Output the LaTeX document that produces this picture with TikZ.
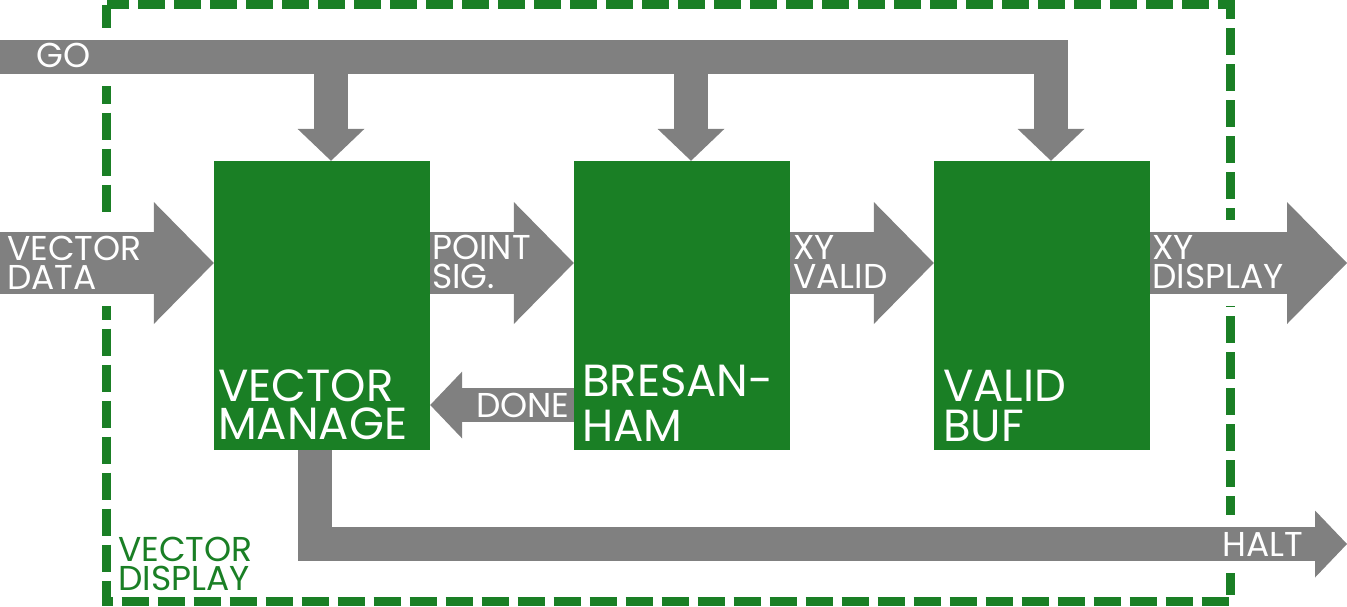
\documentclass[tikz,border=0pt]{standalone}
\usepackage{fontspec}
\setmainfont{Poppins}
\usetikzlibrary{arrows.meta, calc}
\definecolor{blockgreen}{RGB}{26,127,37}
\definecolor{wiregray}{RGB}{128,128,128}

\begin{document}
\begin{tikzpicture}[x=1pt, y=-1pt,
    block/.style={rectangle, fill=blockgreen, minimum width=216pt, minimum height=289pt, inner sep=0pt},
    blocktext/.style={anchor=north west, inner sep=0pt, align=left, text=white, font=\fontsize{45}{40}\selectfont},
    sigtext/.style={anchor=north west, inner sep=0pt, align=left, text=white, font=\fontsize{34.5}{29}\selectfont},
    bus/.style={draw=wiregray, line width=62pt, -{Triangle[length=60pt, width=122pt, line width=0pt]}},
    wire/.style={draw=wiregray, line width=34pt, -{Triangle[length=32pt, width=67pt, line width=0pt]}},
    knockout/.style={preaction={draw=white, line width=#1, -}},
    frame/.style={draw=blockgreen, line width=9pt, dash pattern=on 27pt off 9pt}]

  \useasboundingbox (0,0) rectangle (1347,606);

  % dashed outline of the display unit
  \draw[frame] (106.5,4.5) rectangle (1230.5,601.5);

  \node[block] (vm) at (322,305.5) {};
  \node[block] (br) at (682,305.5) {};
  \node[block] (vb) at (1042,305.5) {};

  \coordinate (goin) at (0,56.5);
  \coordinate (datain) at (0,263);
  \coordinate (dispout) at (1347,263);
  \coordinate (haltout) at (1347,544);
  \coordinate (vmgo) at ([xshift=9pt]vm.north);
  \coordinate (brgo) at ([xshift=9pt]br.north);
  \coordinate (vbgo) at ([xshift=9pt]vb.north);

  % signals crossing the outline
  \draw[wire, knockout=58pt] (goin) -| (vbgo);
  \draw[bus, knockout=86pt] (datain) -- (datain -| vm.west);
  \draw[bus, knockout=86pt] (datain -| vb.east) -- (dispout);
  \draw[wire, knockout=58pt] ([xshift=-7pt]vm.south) |- (haltout);

  % internal signals
  \draw[wire] (vmgo |- goin) -- (vmgo);
  \draw[wire] (brgo |- goin) -- (brgo);
  \draw[bus] (datain -| vm.east) -- (datain -| br.west);
  \draw[bus] (datain -| br.east) -- (datain -| vb.west);
  \draw[wire] (br.west |- 0,405) -- (vm.east |- 0,405);

  \node[sigtext] (golbl) at (36,43) {GO};
  \node[sigtext] (vdlbl) at (7,236) {VECTOR\\DATA};
  \node[sigtext] (pslbl) at (432,235) {POINT\\SIG.};
  \node[sigtext] (xvlbl) at (793,235) {XY\\VALID};
  \node[sigtext] (xdlbl) at (1152,235) {XY\\DISPLAY};
  \node[sigtext] (donelbl) at (476,393) {DONE};
  \node[sigtext] (haltlbl) at (1222,532) {HALT};
  \node[sigtext, text=blockgreen] (framelbl) at (118,537) {VECTOR\\DISPLAY};

  \node[blocktext] (vmlbl) at (218,370) {VECTOR\\[-2pt]MANAGE};
  \node[blocktext] (brlbl) at (582,365) {BRESAN-\\[5pt]HAM};
  \node[blocktext] (vblbl) at (943,370) {VALID\\BUF};
\end{tikzpicture}
\end{document}
